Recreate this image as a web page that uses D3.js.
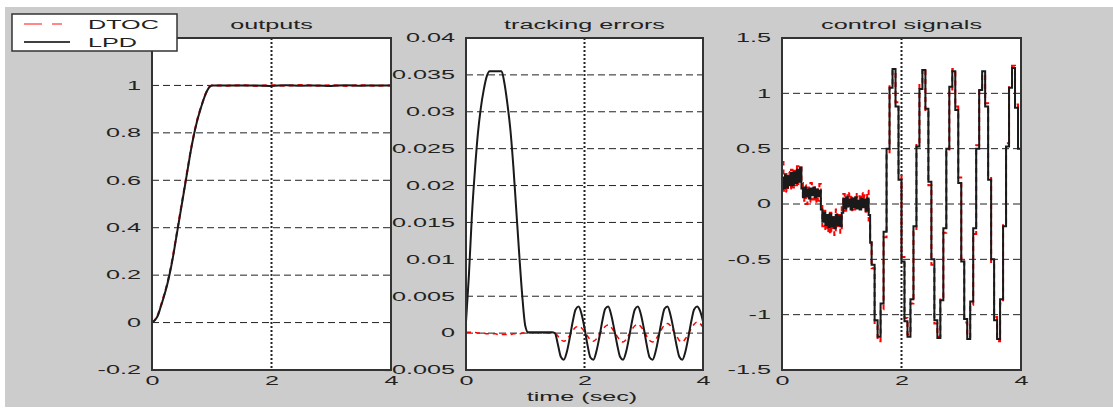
<!DOCTYPE html>
<html>
<head>
<meta charset="utf-8">
<script src="https://cdn.jsdelivr.net/npm/d3@7"></script>
<style>
  body { margin: 0; background: #fff; }
  svg text { font-family: 'Liberation Sans', Arial, sans-serif; font-size: 12px; fill: #222; }
</style>
</head>
<body>
<svg width="1113" height="408"></svg>
<script>
// values
const timeTicks = [0, 2, 4];
const outputTicks = [-0.2, 0, 0.2, 0.4, 0.6, 0.8, 1];
const errorTicks = [-0.005, 0, 0.005, 0.01, 0.015, 0.02, 0.025, 0.03, 0.035, 0.04];
const controlTicks = [-1.5, -1, -0.5, 0, 0.5, 1, 1.5];
const seriesNames = ['DTOC', 'LPD'];

const outputT = [0, 0.05, 0.1, 0.15, 0.2, 0.25, 0.3, 0.35, 0.4, 0.45, 0.5, 0.55, 0.6, 0.65, 0.7,
  0.75, 0.8, 0.85, 0.9, 0.95, 1.0, 1.25, 1.5, 1.75, 2.0, 2.25, 2.5, 2.75, 3.0, 3.25, 3.5, 3.75, 4.0];
const outputLPD = [0, 0.01, 0.03, 0.07, 0.11, 0.155, 0.21, 0.275, 0.35, 0.425, 0.5, 0.575, 0.65, 0.725, 0.79,
  0.845, 0.89, 0.93, 0.965, 0.99, 1.0, 1.0, 1.0, 1.0, 0.998, 1.001, 0.999, 1.0, 0.998, 1.001, 0.999, 1.0, 1.0];
const outputDTOC = [0, 0.012, 0.035, 0.072, 0.115, 0.16, 0.215, 0.28, 0.355, 0.43, 0.505, 0.58, 0.655, 0.728, 0.792,
  0.848, 0.893, 0.932, 0.966, 0.991, 1.0, 0.999, 1.001, 0.998, 1.001, 0.999, 1.002, 0.999, 1.001, 0.998, 1.001, 0.999, 1.0];

// sampled every 0.05 s
const errorLPD = [0.0015, 0.008, 0.016, 0.022, 0.027, 0.0305, 0.033, 0.0348, 0.0355, 0.0355, 0.0355, 0.0355,
  0.0355, 0.0338, 0.031, 0.0275, 0.0225, 0.0165, 0.0105, 0.005, 0.001, 0.0001, 0.0001,
  0.0001, 0.0001, 0.0001, 0.0001, 0.0001, 0.0001, 0.0001, 0,
  -0.0015, -0.0032, -0.0036, -0.0026, -0.0007, 0.0015, 0.0032, 0.0036, 0.0026, 0.0007,
  -0.0016, -0.0033, -0.0036, -0.0025, -0.0006, 0.0016, 0.0033, 0.0036, 0.0025, 0.0006,
  -0.0015, -0.0032, -0.0036, -0.0026, -0.0007, 0.0015, 0.0032, 0.0036, 0.0026, 0.0007,
  -0.0016, -0.0033, -0.0036, -0.0025, -0.0006, 0.0016, 0.0033, 0.0036, 0.0025, 0.0006,
  -0.0015, -0.0032, -0.0036, -0.0026, -0.0007, 0.0015, 0.0032, 0.0036, 0.0030, 0.0016];
const errorDTOC = [0.0001, 0.0001, 0.0001, 0.0001, 0, 0, 0, -0.0001, -0.0001, -0.0001, -0.0001, -0.0002,
  -0.0002, -0.0002, -0.0002, -0.0002, -0.0001, -0.0001, -0.0001, 0, 0, 0, 0,
  0, 0, 0, 0, 0, 0, 0, 0,
  -0.0004, -0.0009, -0.0011, -0.0009, -0.0003, 0.0003, 0.0008, 0.0009, 0.0007, 0.0002,
  -0.0004, -0.0009, -0.0011, -0.0008, -0.0002, 0.0004, 0.0009, 0.0011, 0.0008, 0.0002,
  -0.0004, -0.0010, -0.0012, -0.0009, -0.0002, 0.0005, 0.0010, 0.0012, 0.0009, 0.0003,
  -0.0004, -0.0010, -0.0012, -0.0009, -0.0002, 0.0005, 0.0011, 0.0013, 0.0010, 0.0003,
  -0.0003, -0.0010, -0.0012, -0.0008, -0.0001, 0.0006, 0.0012, 0.0015, 0.0013, 0.0008];

// 0.025 s samples up to 1.475 s, then 0.05 s samples
const controlLPD = [0.24, 0.14, 0.26, 0.15, 0.25, 0.17, 0.28, 0.17, 0.29, 0.19, 0.31, 0.2, 0.33,
  0.14, 0.06, 0.15, 0.07, 0.13, 0.05, 0.14, 0.08, 0.15, 0.06, 0.13, 0.07, 0.12,
  -0.05, -0.16, -0.08, -0.19, -0.1, -0.21, -0.09, -0.2, -0.12, -0.22, -0.1, -0.19, -0.11, -0.2, -0.08,
  0.05, -0.04, 0.06, -0.02, 0.04, -0.05, 0.05, -0.03, 0.06, -0.04, 0.03, -0.05, 0.05, -0.03, 0.04, -0.06, 0.05, -0.1, -0.35,
  -0.55, -1.05, -1.2, -0.9, -0.25, 0.5, 1.05, 1.22, 0.88, 0.22,
  -0.52, -1.06, -1.2, -0.86, -0.2, 0.52, 1.04, 1.21, 0.86, 0.2,
  -0.5, -1.05, -1.21, -0.87, -0.22, 0.5, 1.06, 1.2, 0.85, 0.19,
  -0.52, -1.04, -1.22, -0.88, -0.22, 0.5, 1.03, 1.2, 0.88, 0.22,
  -0.5, -1.05, -1.22, -0.86, -0.2, 0.52, 1.05, 1.23, 0.87, 0.5, 0.02];
const controlDTOC = [0.38, 0.12, 0.27, 0.11, 0.29, 0.14, 0.31, 0.15, 0.3, 0.17, 0.34, 0.18, 0.35,
  0.19, 0.03, 0.17, 0.0, 0.15, 0.02, 0.19, 0.04, 0.16, 0.01, 0.15, 0.03, 0.18,
  0.0, -0.2, -0.06, -0.24, -0.1, -0.27, -0.08, -0.25, -0.12, -0.28, -0.05, -0.22, -0.1, -0.26, -0.02,
  0.09, -0.06, 0.08, -0.04, 0.1, -0.07, 0.06, -0.05, 0.09, -0.03, 0.07, -0.06, 0.1, -0.04, 0.08, -0.07, 0.12, -0.15, -0.33,
  -0.58, -1.1, -1.24, -0.95, -0.3, 0.45, 1.08, 1.2, 0.92, 0.27,
  -0.48, -1.03, -1.18, -0.9, -0.25, 0.55, 1.1, 1.22, 0.83, 0.17,
  -0.55, -1.08, -1.2, -0.84, -0.26, 0.47, 1.02, 1.22, 0.88, 0.24,
  -0.49, -1.07, -1.2, -0.91, -0.27, 0.53, 1.05, 1.17, 0.91, 0.25,
  -0.54, -1.02, -1.24, -0.9, -0.17, 0.55, 1.08, 1.25, 0.9, 0.53, 0.03];

const errorT = d3.range(errorLPD.length).map(i => i * 0.05);
const controlT = d3.range(60).map(i => i * 0.025).concat(d3.range(51).map(i => 1.5 + i * 0.05));

const svg = d3.select('svg');
const plotTop = 38;
const plotBottom = 370;
const SX = 2.1; // the source picture is stretched sideways, text included

// widen a text in place, keeping its anchor point
const stretch = (sel) => {
  sel.each(function () {
    const t = d3.select(this);
    const x = +t.attr('x') || 0;
    const y = +t.attr('y') || 0;
    t.attr('x', 0).attr('y', 0)
      .attr('transform', `translate(${x},${y}) scale(${SX},1)`);
  });
};

svg.append('rect')
  .attr('x', 5).attr('y', 7)
  .attr('width', 1108).attr('height', 400)
  .attr('fill', '#cccccc');

const drawPanel = (p) => {
  const x = d3.scaleLinear().domain([0, 4]).range([p.left, p.right]);
  const y = d3.scaleLinear().domain(p.domain).range([plotBottom, plotTop]);
  const g = svg.append('g');

  g.append('clipPath').attr('id', 'clip-' + p.id)
    .append('rect')
    .attr('x', p.left).attr('y', plotTop)
    .attr('width', p.right - p.left).attr('height', plotBottom - plotTop);

  g.append('rect')
    .attr('x', p.left).attr('y', plotTop)
    .attr('width', p.right - p.left).attr('height', plotBottom - plotTop)
    .attr('fill', '#fff');

  // grid
  g.selectAll('.hgrid')
    .data(p.ticks.filter(d => d > p.domain[0] && d < p.domain[1]))
    .enter().append('line')
    .attr('x1', p.left).attr('x2', p.right)
    .attr('y1', d => y(d)).attr('y2', d => y(d))
    .attr('stroke', '#222')
    .attr('stroke-width', 1)
    .attr('stroke-dasharray', '7,4');

  g.append('line')
    .attr('x1', x(2)).attr('x2', x(2))
    .attr('y1', plotTop).attr('y2', plotBottom)
    .attr('stroke', '#222')
    .attr('stroke-width', 2)
    .attr('stroke-dasharray', '2,2');

  const lines = g.append('g').attr('clip-path', `url(#clip-${p.id})`);
  p.series.forEach((s) => {
    const line = d3.line()
      .x((d, i) => x(s.t[i]))
      .y(d => y(d))
      .curve(p.curve);
    lines.append('path')
      .datum(s.values)
      .attr('d', line)
      .attr('fill', 'none')
      .attr('stroke', s.color)
      .attr('stroke-width', s.width)
      .attr('stroke-dasharray', s.dash);
  });

  g.append('rect')
    .attr('x', p.left).attr('y', plotTop)
    .attr('width', p.right - p.left).attr('height', plotBottom - plotTop)
    .attr('fill', 'none')
    .attr('stroke', '#333')
    .attr('stroke-width', 2);

  const yAxis = g.append('g')
    .attr('transform', `translate(${p.left},0)`)
    .call(d3.axisLeft(y).tickValues(p.ticks).tickSize(0).tickPadding(11).tickFormat(d => String(d)));
  yAxis.select('.domain').remove();
  yAxis.selectAll('text').call(stretch);

  const xAxis = g.append('g')
    .attr('transform', `translate(0,${plotBottom})`)
    .call(d3.axisBottom(x).tickValues(timeTicks).tickSize(0).tickPadding(6).tickFormat(d => String(d)));
  xAxis.select('.domain').remove();
  xAxis.selectAll('text').call(stretch);

  g.append('text')
    .attr('x', (p.left + p.right) / 2)
    .attr('y', 29)
    .style('text-anchor', 'middle')
    .text(p.title)
    .call(stretch);

  return g;
};

const panelErrors = drawPanel({
  id: 'err',
  left: 466,
  right: 703,
  domain: [-0.005, 0.04],
  ticks: errorTicks,
  title: 'tracking errors',
  curve: d3.curveMonotoneX,
  series: [
    { t: errorT, values: errorDTOC, color: '#ff0000', width: 1.5, dash: '5,4' },
    { t: errorT, values: errorLPD, color: '#1a1a1a', width: 2, dash: null }
  ]
});

panelErrors.append('text')
  .attr('x', 582)
  .attr('y', 401)
  .style('text-anchor', 'middle')
  .text('time (sec)')
  .call(stretch);

drawPanel({
  id: 'ctl',
  left: 782,
  right: 1021,
  domain: [-1.5, 1.5],
  ticks: controlTicks,
  title: 'control signals',
  curve: d3.curveStepAfter,
  series: [
    { t: controlT, values: controlDTOC, color: '#ff0000', width: 2, dash: '5,4' },
    { t: controlT, values: controlLPD, color: '#1a1a1a', width: 2, dash: null }
  ]
});

drawPanel({
  id: 'out',
  left: 152,
  right: 391,
  domain: [-0.2, 1.2],
  ticks: outputTicks,
  title: 'outputs',
  curve: d3.curveMonotoneX,
  series: [
    { t: outputT, values: outputDTOC, color: '#ff0000', width: 2, dash: '5,4' },
    { t: outputT, values: outputLPD, color: '#1a1a1a', width: 2, dash: null }
  ]
});

// legend
const legend = svg.append('g');
legend.append('rect')
  .attr('x', 12).attr('y', 14)
  .attr('width', 165).attr('height', 37)
  .attr('fill', '#fff')
  .attr('stroke', '#333')
  .attr('stroke-width', 1.5);

const legendStyles = [
  { color: '#ff6060', dash: '18,10', len: 38, y: 24 },
  { color: '#000', dash: null, len: 46, y: 42 }
];
seriesNames.forEach((name, i) => {
  const st = legendStyles[i];
  legend.append('line')
    .attr('x1', 24).attr('x2', 24 + st.len)
    .attr('y1', st.y).attr('y2', st.y)
    .attr('stroke', st.color)
    .attr('stroke-width', 1.5)
    .attr('stroke-dasharray', st.dash);
  legend.append('text')
    .attr('x', 88)
    .attr('y', st.y + 5)
    .text(name)
    .call(stretch);
});
</script>
</body>
</html>
